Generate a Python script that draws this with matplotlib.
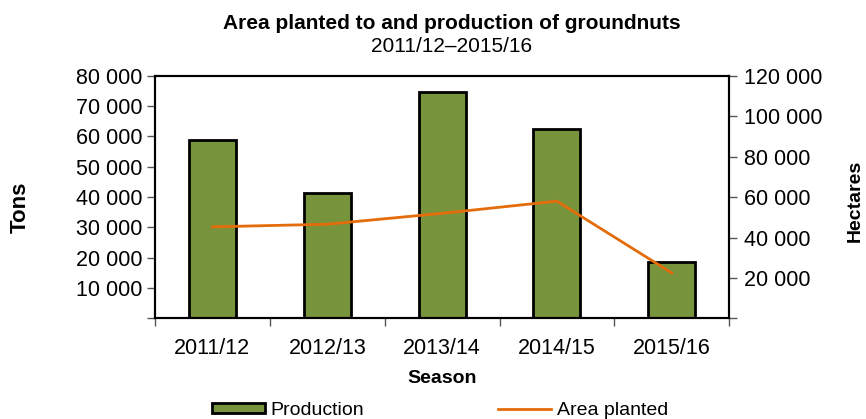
import numpy as np
import matplotlib
matplotlib.use("Agg")
import matplotlib.pyplot as plt
from matplotlib.ticker import FuncFormatter, FixedLocator

plt.rcParams['font.family'] = ['Liberation Sans', 'DejaVu Sans']

# ------------------------
# Data
# ------------------------
seasons = ["2011/12", "2012/13", "2013/14", "2014/15", "2015/16"]
production_tons = [59000, 41500, 74600, 62400, 18700]
area_hectares = [45300, 46600, 52000, 58000, 22500]

bar_color = "#77933C"
line_color = "#E46C0A"

def space_thousands(v, pos=None):
    if v == 0:
        return ""
    return f"{int(v):,}".replace(",", " ")

fig = plt.figure(figsize=(8.66, 4.19), dpi=100)
ax = fig.add_axes([0.179, 0.240, 0.663, 0.579])
x = np.arange(len(seasons))

ax.bar(x, production_tons, width=0.41, color=bar_color, edgecolor="black",
       linewidth=2, label="Production", zorder=2)
ax.set_xlim(-0.5, len(seasons) - 0.5)
ax.set_ylim(0, 80000)
ax.set_yticks(np.arange(0, 80001, 10000))
ax.yaxis.set_major_formatter(FuncFormatter(space_thousands))
ax.set_xticks(x)
ax.set_xticklabels(seasons)
ax.tick_params(axis="x", which="major", length=0, pad=14, labelsize=15.5)
ax.xaxis.set_minor_locator(FixedLocator(np.arange(-0.5, len(seasons), 1.0)))
ax.tick_params(axis="x", which="minor", length=6, width=1, color="#555555")
ax.tick_params(axis="y", length=6, width=1, color="#555555", labelsize=15.5, pad=3)
ax.set_xlabel("Season", fontsize=14, fontweight="bold", labelpad=8)
for s in ax.spines.values():
    s.set_linewidth(1.5)
    s.set_color("black")

ax2 = ax.twinx()
ax2.plot(x, area_hectares, color=line_color, linewidth=2, label="Area planted", zorder=3)
ax2.set_ylim(0, 120000)
ax2.set_yticks(np.arange(0, 120001, 20000))
ax2.yaxis.set_major_formatter(FuncFormatter(space_thousands))
ax2.tick_params(axis="y", length=6, width=1, color="#555555", labelsize=15.5, pad=5)
for s in ax2.spines.values():
    s.set_linewidth(1.5)
    s.set_color("black")

# axis titles placed by hand, like the original
fig.text(20 / 866, 1 - 207 / 419, "Tons", rotation=90, ha="center", va="center",
         fontsize=16, fontweight="bold")
fig.text(855 / 866, 1 - 201 / 419, "Hectares", rotation=90, ha="center", va="center",
         fontsize=14, fontweight="bold")

fig.text(0.522, 0.945, "Area planted to and production of groundnuts",
         ha="center", va="center", fontsize=15, fontweight="bold")
fig.text(0.522, 0.888, "2011/12\u20132015/16", ha="center", va="center", fontsize=15)

h1, l1 = ax.get_legend_handles_labels()
h2, l2 = ax2.get_legend_handles_labels()
fig.legend(h1 + h2, l1 + l2, loc="center", bbox_to_anchor=(0.508, 0.02), ncol=2,
           frameon=False, fontsize=14, handlelength=2.7, handleheight=0.45,
           columnspacing=6.9, handletextpad=0.3)

fig.savefig("out.png", dpi=100)
